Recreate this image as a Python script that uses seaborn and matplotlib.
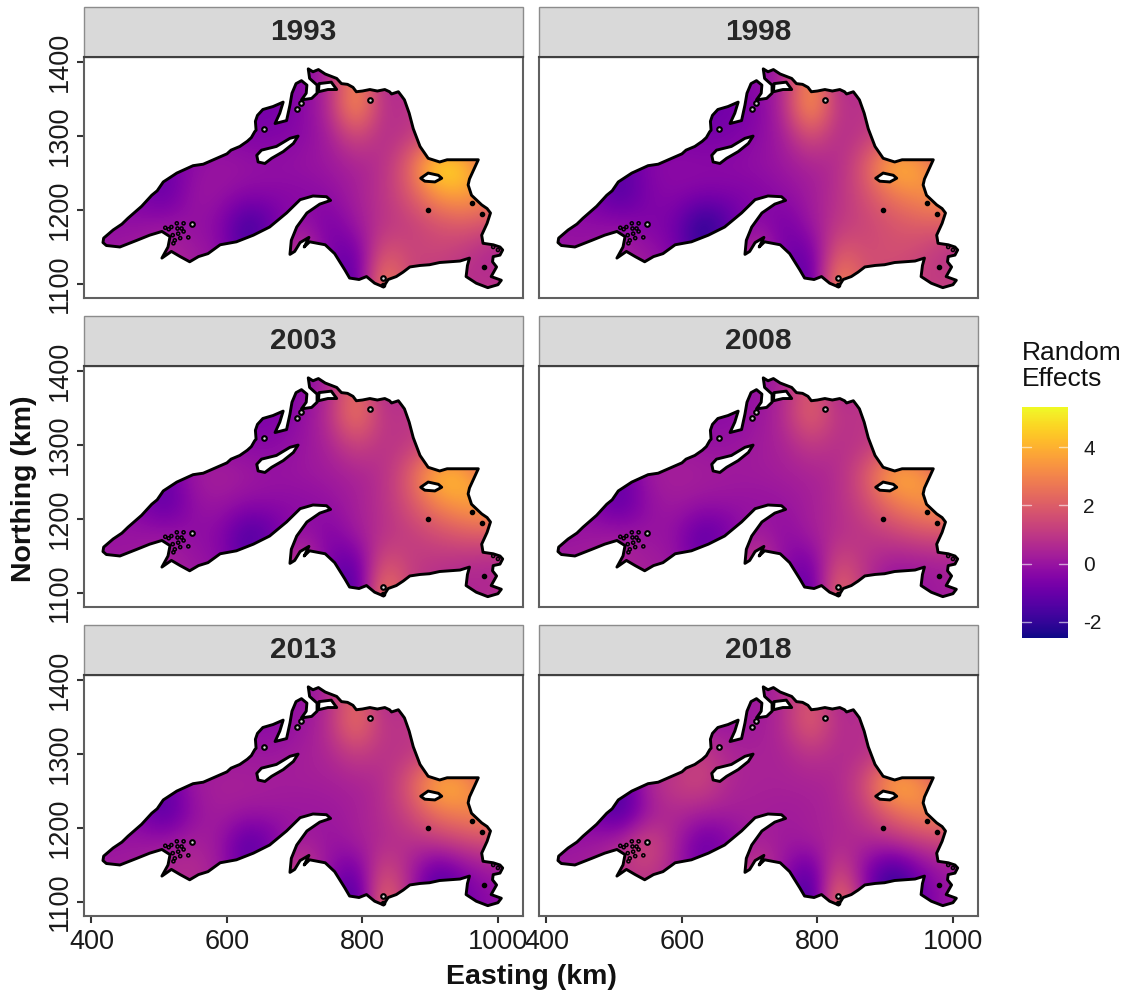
import numpy as np
import pandas as pd
import seaborn as sns
import matplotlib.pyplot as plt
from matplotlib.cm import ScalarMappable
from matplotlib.colors import Normalize
from matplotlib.patches import PathPatch, Rectangle
from matplotlib.path import Path

years = [1993, 1998, 2003, 2008, 2013, 2018]
east_km = [430, 470, 510, 550, 590, 630, 670, 710, 750, 790, 830, 870, 910, 950, 990, 1030]
north_km = [1380, 1340, 1300, 1260, 1220, 1180, 1140, 1100]

# random effects, one row per northing
re_1993 = [[0, 0, 0, 0, -.2, -.4, -.5, -.3, .3, 3.4, .3, .8, 1, 1, 1, 1],
           [0, 0, 0, -.3, -.5, -.8, -.8, -.4, .5, 3.9, .6, .9, 1.0, 1.2, 1.2, 1.2],
           [0, 0, -.3, -.3, -.3, -.5, -.5, -.3, .2, 1.6, .6, 1.0, 1.5, 1.5, 1.5, 1.5],
           [0, -.4, -1.0, -.2, .1, 0, -.1, 0, .1, .4, .7, 2.2, 5.5, 4.8, 2.0, 1.5],
           [-.3, -.6, -1.2, .1, 0, -.3, -.3, -.4, -.2, .3, .9, 1.8, 3.4, 3.8, 3.0, 2],
           [-.1, -.1, .1, -.1, -.3, -2.1, -1.0, .2, -.8, .1, .9, 1.1, 1.6, 1.9, 1.6, 1.5],
           [.1, .3, .6, .2, -.1, -1.6, .2, 1.4, -.6, -1.2, 2.1, 1.3, 1.4, 1.0, .4, .4],
           [.1, .3, .5, .3, .1, -.5, .3, .8, -.5, -1.7, 3.5, 1.2, 1.0, .7, .9, .9]]
re_1998 = [[0, 0, 0, 0, -.2, -.4, -.5, -.3, .3, 3.6, .3, .8, 1, 1, 1, 1],
           [0, 0, 0, -.3, -.6, -.9, -.9, -.5, .5, 4.1, .7, .9, 1.0, 1.2, 1.2, 1.2],
           [0, 0, -.5, -.5, -.5, -.7, -.6, -.3, .2, 1.8, .6, 1.0, 1.5, 1.5, 1.5, 1.5],
           [0, -.6, -1.4, -.4, -.2, -.2, -.2, -.1, .1, .4, .6, 1.9, 4.5, 4.0, 1.7, 1.4],
           [-.3, -.7, -1.6, -.5, -.3, -.5, -.5, -.5, -.2, .2, .8, 1.6, 2.6, 3.2, 3.6, 2.6],
           [-.1, -.2, -.1, -.5, -.7, -2.6, -1.5, .1, -.9, .1, 1.0, 1.3, 1.7, 2.0, 2.0, 1.8],
           [0, .1, .4, .1, -.5, -2.0, 0, 1.2, -.7, -1.2, 2.3, 1.5, 1.7, 1.4, .7, .6],
           [0, .2, .4, .2, 0, -.6, .2, .7, -.6, -1.7, 3.7, 1.6, 1.4, 1.1, 1.2, 1.2]]
re_2003 = [[0, 0, 0, 0, -.2, -.4, -.5, -.3, .3, 2.7, .3, .8, 1, 1, 1, 1],
           [0, 0, 0, -.3, -.4, -.6, -.6, -.2, .7, 3.1, .8, 1.0, 1.0, 1.2, 1.2, 1.2],
           [0, 0, -.2, -.2, -.2, -.3, -.3, 0, .4, 1.4, .8, 1.0, 1.5, 1.5, 1.5, 1.5],
           [0, -.3, -1.1, .2, .4, .2, 0, .1, .2, .4, .7, 2.0, 4.6, 4.3, 2.0, 1.5],
           [-.1, -.5, -1.4, -.1, .1, -.2, -.2, -.3, -.1, .3, .8, 1.7, 3.0, 3.7, 4.0, 2.8],
           [0, 0, .1, -.2, -.3, -1.8, -1.1, .2, -.6, .2, .8, 1.1, 1.5, 1.9, 2.0, 1.8],
           [.1, .2, .4, .1, -.2, -1.3, .2, 1.4, -.6, -1.4, 2.0, 1.1, .9, .7, .5, .5],
           [.1, .2, .3, .2, .1, -.3, .3, .9, -.7, -2.0, 3.4, 1.1, .6, .4, .7, .7]]
re_2008 = [[0, 0, 0, 0, 0, -.1, -.2, -.1, .4, 2.1, .3, .8, 1, 1, 1, 1],
           [0, 0, 0, -.2, -.2, -.3, -.3, 0, .6, 2.5, .8, 1.0, 1.0, 1.1, 1.1, 1.1],
           [0, 0, -.2, 0, .1, 0, 0, .2, .4, 1.1, .7, .9, 1.3, 1.3, 1.3, 1.3],
           [0, -.3, -1.1, .2, .4, .3, .2, .2, .3, .4, .6, 1.8, 4.2, 3.9, 1.8, 1.4],
           [-.1, -.5, -1.4, -.1, .2, 0, 0, -.1, 0, .3, .7, 1.4, 2.6, 3.3, 3.7, 2.6],
           [0, .1, .2, 0, -.1, -1.4, -.8, .4, -.3, .3, .7, .9, 1.2, 1.6, 1.7, 1.5],
           [.2, .3, .5, .3, .1, -1.0, .4, 1.5, -.2, -1.0, 1.8, .8, .2, .2, .3, .3],
           [.2, .3, .4, .3, .2, 0, .5, 1.0, -.3, -1.7, 2.9, .8, -.4, 0, .3, .3]]
re_2013 = [[0, 0, 0, 0, 0, -.1, -.2, -.1, .4, 2.5, .3, .8, 1, 1, 1, 1],
           [0, 0, 0, -.2, -.2, -.3, -.3, 0, .7, 2.9, .8, 1.0, 1.0, 1.1, 1.1, 1.1],
           [0, 0, -.2, 0, .1, .1, .1, .3, .5, 1.2, .8, .9, 1.3, 1.3, 1.3, 1.3],
           [0, -.4, -1.2, .2, .4, .4, .3, .3, .3, .4, .6, 1.9, 4.4, 4.0, 1.8, 1.4],
           [-.1, -.6, -1.6, -.1, .3, .1, .1, 0, .1, .3, .7, 1.4, 2.6, 3.0, 3.4, 2.5],
           [0, .1, .2, .4, .1, -1.6, -.7, .5, -.1, .3, .6, .7, .9, 1.3, 1.5, 1.3],
           [.2, .3, .6, .8, .2, -1.2, .5, 1.6, -.1, -1.3, 1.9, .4, -1.5, -.5, .1, .1],
           [.2, .3, .4, .5, .3, -.1, .5, 1.1, -.3, -2.3, 3.0, .5, -1.8, -.8, -.2, -.2]]
re_2018 = [[0, 0, 0, 0, 0, .1, 0, .1, .5, 2.0, .3, .8, 1, 1, 1, 1],
           [0, 0, 0, -.2, 0, 0, 0, .2, .6, 2.4, .6, .8, .8, .9, .9, .9],
           [0, 0, -.2, .2, .6, 1.3, .5, .4, .4, .9, .6, .7, 1.1, 1.1, 1.1, 1.1],
           [0, -.6, -1.7, .6, 1.2, 1.5, .5, .4, .4, .4, .5, 1.5, 4.4, 3.7, 1.5, 1.2],
           [-.1, -.8, -1.8, .1, .6, .3, .3, .3, .2, .3, .5, 1.0, 2.2, 3.0, 3.3, 2.3],
           [0, .1, .7, 1.8, .4, -1.2, -.6, .5, .1, .3, .5, .5, .6, 1.0, 1.3, 1.1],
           [.2, .4, .8, 1.2, .3, -.9, .5, 1.5, 0, -1.7, 2.0, -.5, -2.2, -.7, .1, .1],
           [.2, .3, .5, .6, .3, 0, .5, 1.0, -.2, -2.5, 3.5, .1, -2.5, -1.0, .1, .1]]
re_by_year = [re_1993, re_1998, re_2003, re_2008, re_2013, re_2018]

# lake shoreline in km
shore_km = [(418, 1162), (432, 1173), (445, 1181), (454, 1189), (474, 1205), (489, 1220), (497, 1226), (506, 1238),
            (526, 1250), (550, 1260), (565, 1262), (580, 1268), (600, 1276), (606, 1281), (619, 1286), (630, 1293), (636, 1298),
            (641, 1306), (643, 1308), (642, 1320), (645, 1328), (653, 1336), (668, 1340), (683, 1346), (678, 1331), (671, 1317),
            (688, 1321), (693, 1342), (696, 1358), (702, 1371), (710, 1375), (718, 1369), (717, 1358), (710, 1349), (725, 1351),
            (733, 1358), (733, 1369), (722, 1378), (720, 1391), (727, 1387), (735, 1390), (745, 1384), (762, 1378), (769, 1371),
            (778, 1370), (786, 1366), (791, 1360), (800, 1361), (811, 1363), (822, 1361), (833, 1363), (840, 1360), (843, 1357),
            (853, 1360), (858, 1354), (862, 1349), (869, 1331), (875, 1310), (885, 1286), (897, 1270), (914, 1265), (925, 1268),
            (939, 1268), (971, 1268), (966, 1258), (963, 1252), (958, 1242), (956, 1234), (961, 1220), (976, 1207), (984, 1202),
            (989, 1196), (984, 1182), (976, 1166), (978, 1155), (993, 1153), (1003, 1150), (1007, 1146), (1003, 1139), (993, 1137),
            (992, 1130), (998, 1123), (990, 1110), (1005, 1105), (1000, 1099), (985, 1095), (968, 1101), (953, 1110), (955, 1125),
            (958, 1135), (944, 1131), (929, 1130), (914, 1129), (899, 1126), (885, 1125), (870, 1123), (860, 1116), (850, 1110),
            (838, 1106), (831, 1096), (818, 1101), (806, 1110), (795, 1106), (781, 1108), (774, 1119), (759, 1141), (745, 1153),
            (722, 1157), (714, 1150), (721, 1163), (708, 1156), (700, 1144), (693, 1140), (695, 1159), (703, 1177), (718, 1196),
            (737, 1208), (753, 1213), (747, 1218), (727, 1219), (708, 1214), (688, 1196), (663, 1177), (639, 1166), (614, 1157),
            (590, 1153), (572, 1141), (558, 1137), (545, 1130), (531, 1137), (518, 1144), (504, 1135), (513, 1150), (516, 1164),
            (504, 1171), (486, 1166), (467, 1159), (442, 1150), (422, 1152), (417, 1156)]
royale_km = [(646, 1265), (644, 1274), (651, 1281), (673, 1286), (693, 1297), (705, 1300), (698, 1290), (683, 1279), (666, 1270), (656, 1263)]
michipicoten_km = [(886, 1243), (897, 1250), (912, 1247), (917, 1243), (907, 1238), (892, 1239)]
bay_km = [(735, 1360), (736, 1371), (754, 1373), (762, 1363), (749, 1363)]
ring_islet_x = [654, 811, 830, 548, 703, 710]
ring_islet_y = [1309, 1349, 1108, 1181, 1337, 1345]
solid_islet_x = [897, 962, 977, 979, 830]
solid_islet_y = [1200, 1210, 1194, 1123, 1098]
apostle_x = [509, 514, 518, 526, 533, 528, 536, 523, 531, 543, 536, 521, 527, 520, 993, 1000]
apostle_y = [1176, 1174, 1177, 1182, 1175, 1168, 1171, 1159, 1162, 1163, 1182, 1155, 1175, 1166, 1150, 1146]

vmin, vmax = -2.55, 5.38
FIG_W, FIG_H = 1135, 997


def closed(pts):
    verts = list(pts) + [pts[0]]
    codes = [Path.MOVETO] + [Path.LINETO] * (len(pts) - 1) + [Path.CLOSEPOLY]
    return verts, codes


def lake_path():
    # holes run the other way round so the clip leaves them white
    verts, codes = closed(shore_km)
    for pts in [royale_km, michipicoten_km, bay_km]:
        v, c = closed(pts[::-1])
        verts += v
        codes += c
    return Path(verts, codes)


def draw_lake(data, **kwargs):
    ax = plt.gca()
    grid = data.pivot(index='north', columns='east', values='re').sort_index(ascending=False)
    im = ax.imshow(grid.values, cmap='plasma', vmin=vmin, vmax=vmax, aspect='auto', interpolation='bicubic',
                   extent=[410, 1050, 1080, 1400], zorder=1)
    patch = PathPatch(lake_path(), facecolor='none', edgecolor='black', lw=2.1, joinstyle='round', zorder=3)
    ax.add_patch(patch)
    im.set_clip_path(patch)
    ax.scatter(ring_islet_x, ring_islet_y, s=11, facecolor='#dddddd', edgecolor='black', linewidth=1.5, zorder=4)
    ax.scatter(solid_islet_x, solid_islet_y, s=9, color='black', zorder=4)
    ax.scatter(apostle_x, apostle_y, s=5, facecolor='none', edgecolor='black', linewidth=1.1, zorder=4)


frames = []
for year, rows in zip(years, re_by_year):
    for north, row in zip(north_km, rows):
        frames.append(pd.DataFrame({'year': year, 'north': north, 'east': east_km, 're': row}))
df = pd.concat(frames, ignore_index=True)

sns.set_theme(style='white')
plt.rcParams['font.family'] = ['Liberation Sans', 'DejaVu Sans']

g = sns.FacetGrid(df, col='year', col_wrap=2, sharex=True, sharey=True)
g.map_dataframe(draw_lake)
fig = g.figure
fig.set_size_inches(FIG_W / 100, FIG_H / 100)
fig.set_dpi(100)
g.set_titles('')
g.set_axis_labels('', '')

# panel boxes in pixels, ggplot facet layout
lefts = [84, 539]
tops = [57, 366, 675]
pw, ph = 439, 241
for i, ax in enumerate(g.axes.flat):
    col, row = i % 2, i // 2
    ax.set_position([lefts[col] / FIG_W, 1 - (tops[row] + ph) / FIG_H, pw / FIG_W, ph / FIG_H])
    ax.set_xlim(389, 1037)
    ax.set_ylim(1081, 1407)
    ax.set_xticks([400, 600, 800, 1000])
    ax.set_yticks([1100, 1200, 1300, 1400])
    ax.tick_params(axis='x', bottom=row == 2, labelbottom=row == 2, length=5, width=1.5, color='#333333',
                   labelsize=19.5, pad=4, labelcolor='#1a1a1a')
    ax.tick_params(axis='y', left=col == 0, labelleft=col == 0, length=5, width=1.5, color='#333333',
                   labelsize=19.5, pad=3, labelcolor='#1a1a1a')
    for lab in ax.get_yticklabels():
        lab.set_rotation(90)
        lab.set_va('center')
    for s in ax.spines.values():
        s.set_visible(True)
        s.set_color('#606060')
        s.set_linewidth(1.5)
    ax.spines['top'].set_color('#404040')
    strip = Rectangle((0, 1), 1, 50 / ph, transform=ax.transAxes, clip_on=False, facecolor='#d9d9d9',
                      edgecolor='#8c8c8c', lw=1, zorder=2)
    ax.add_patch(strip)
    ax.text(0.5, 1 + 25 / ph, str(years[i]), transform=ax.transAxes, ha='center', va='center',
            fontsize=21.5, fontweight='bold', color='#262626', zorder=6)

fig.text(531 / FIG_W, 1 - 977 / FIG_H, 'Easting (km)', ha='center', va='center', fontsize=20.5, fontweight='bold',
         color='#111111')
fig.text(24 / FIG_W, 1 - 489 / FIG_H, 'Northing (km)', ha='center', va='center', rotation=90, fontsize=20.5,
         fontweight='bold', color='#111111')

# legend
cax = fig.add_axes([1022 / FIG_W, 1 - 638 / FIG_H, 46 / FIG_W, 231 / FIG_H])
cb = fig.colorbar(ScalarMappable(Normalize(vmin, vmax), cmap='plasma'), cax=cax)
cb.outline.set_visible(False)
cb.set_ticks([-2, 0, 2, 4])
cb.set_ticklabels(['-2', '0', '2', '4'])
cax.tick_params(right=False, length=0, labelsize=15, pad=11, labelcolor='#1a1a1a')
for tick in [-2, 0, 2, 4]:
    cax.plot([0, 0.2], [tick, tick], transform=cax.get_yaxis_transform(), color='white', alpha=0.6, lw=1)
    cax.plot([0.8, 1], [tick, tick], transform=cax.get_yaxis_transform(), color='white', alpha=0.6, lw=1)
fig.text(1022 / FIG_W, 1 - 366 / FIG_H, 'Random\nEffects', ha='left', va='center', fontsize=19, linespacing=1.15,
         color='#111111')

fig.savefig('out.png', dpi=100)
